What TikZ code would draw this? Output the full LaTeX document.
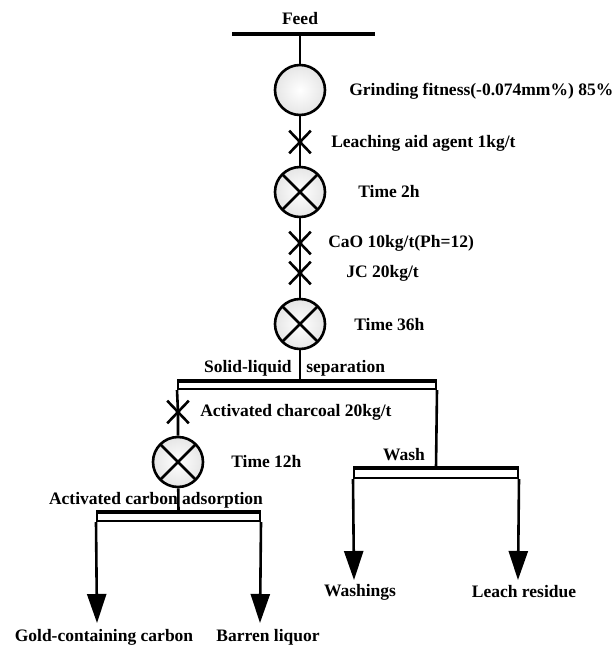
\documentclass[tikz,border=0pt]{standalone}
\usepackage{fontspec}
\setmainfont{Liberation Serif}
\usetikzlibrary{shapes.misc,arrows.meta}

\tikzset{
  tank/.style={circle,draw,minimum size=50pt,inner sep=0pt,inner color=white,outer color=gray!20},
  agit/.style={tank,path picture={\draw (path picture bounding box.north west) -- (path picture bounding box.south east)
      (path picture bounding box.south west) -- (path picture bounding box.north east);}},
  dose/.style={cross out,draw,minimum width=19pt,minimum height=20pt,inner sep=0pt},
  bar/.style={draw,fill=white,line width=2pt,inner sep=0pt,minimum height=8pt},
  bartop/.style={line width=4pt},
  txt/.style={inner sep=1pt,font=\bfseries\fontsize{17.5}{20}\selectfont},
  flow/.style={-{Triangle[length=29pt,width=19pt]}}
}

\begin{document}
\begin{tikzpicture}[x=1pt,y=-1pt,line width=2.6pt]
\useasboundingbox (0,0) rectangle (614,646);
% feed
\node[txt] (feed) at (300,19) {Feed};
\coordinate (feedL) at (232,34);
\coordinate (feedR) at (375,34);
\coordinate (feedP) at (300,34);
\draw[line width=4.5pt] (feedL) -- (feedR);
% main line
\node[tank] (grind) at (300,90) {};
\node[dose] (d1) at (300,142) {};
\node[agit] (leach) at (300,192) {};
\node[dose] (d2) at (300,243) {};
\node[dose] (d3) at (300,273) {};
\node[agit] (cond) at (300,324) {};
\node[bar,minimum width=258pt,minimum height=7pt] (sep) at (307,385.5) {};
\draw[bartop] (sep.north west) -- (sep.north east);
\draw (feedP) -- (grind);
\draw (grind) -- (d1.center) -- (leach);
\draw (leach) -- (d2.center) -- (d3.center) -- (cond);
\draw (cond) -- (cond |- sep.north);
\node[txt,anchor=west] (grindT) at (347,91) {Grinding fitness(-0.074mm\%) 85\%};
\node[txt,anchor=west] (d1T) at (329,143) {Leaching aid agent 1kg/t};
\node[txt,anchor=west] (leachT) at (356,192) {Time 2h};
\node[txt,anchor=west] (d2T) at (326,243) {CaO 10kg/t(Ph=12)};
\node[txt,anchor=west] (d3T) at (344,273) {JC 20kg/t};
\node[txt,anchor=west] (condT) at (352,325) {Time 36h};
\node[txt,anchor=east] (sepT1) at (294,368) {Solid-liquid};
\node[txt,anchor=west] (sepT2) at (304,368) {separation};
% adsorption branch
\node[dose] (d4) at (178,412) {};
\node[agit] (cip) at (178,462) {};
\node[bar,minimum width=163pt] (ads) at (178.5,517) {};
\draw[bartop] (ads.north west) -- (ads.north east);
\draw (sep.south west) -- (d4.center) -- (cip);
\draw (cip) -- (ads.north);
\node[txt,anchor=west] (d4T) at (198,412) {Activated charcoal 20kg/t};
\node[txt,anchor=west] (cipT) at (229,462) {Time 12h};
\node[txt] (adsT) at (156,500) {Activated carbon adsorption};
\coordinate (goldE) at (97,623);
\coordinate (barrenE) at (260,623);
\draw[flow] (ads.south west) -- (goldE);
\draw[flow] (ads.south east) -- (barrenE);
\node[txt] (gold) at (104,637) {Gold-containing carbon};
\node[txt] (barren) at (268,637) {Barren liquor};
% wash branch
\node[bar,minimum width=164pt,minimum height=9pt] (wash) at (436,473.5) {};
\draw[bartop] (wash.north west) -- (wash.north east);
\draw (sep.south east) -- (wash.north);
\node[txt] (washT) at (404,455) {Wash};
\coordinate (washE) at (354,580);
\coordinate (residueE) at (518,580);
\draw[flow] (wash.south west) -- (washE);
\draw[flow] (wash.south east) -- (residueE);
\node[txt] (washings) at (360,592) {Washings};
\node[txt] (residue) at (524,592) {Leach residue};
\end{tikzpicture}
\end{document}
